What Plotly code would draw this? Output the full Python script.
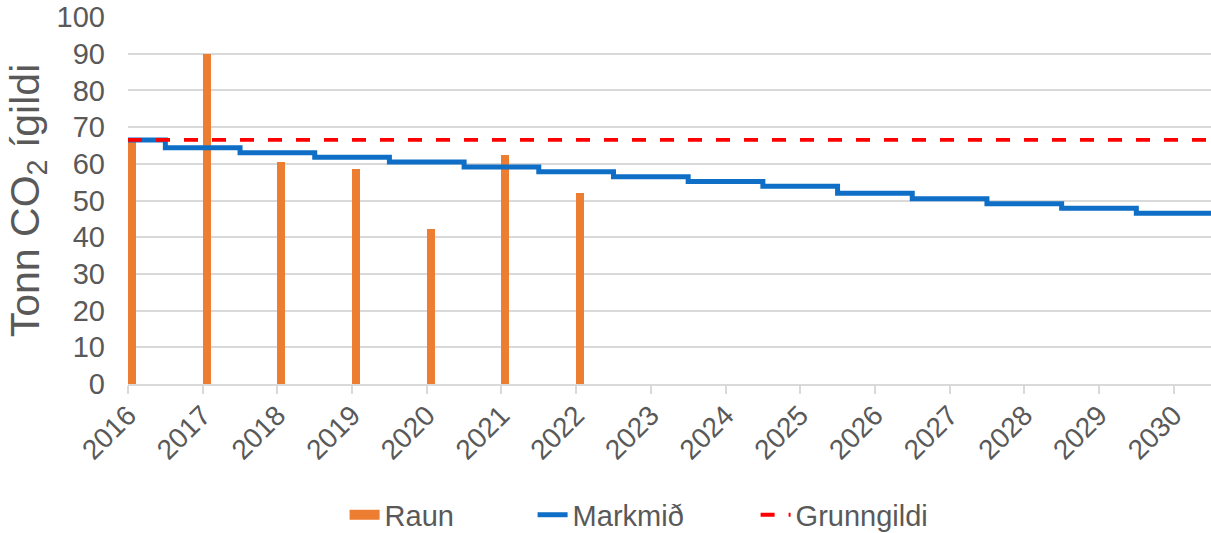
import plotly.graph_objects as go

years = [2016, 2017, 2018, 2019, 2020, 2021, 2022, 2023, 2024, 2025, 2026, 2027, 2028, 2029, 2030]
raun_years = [2016, 2017, 2018, 2019, 2020, 2021, 2022]
raun = [66.3, 89.8, 60.6, 58.5, 42.3, 62.4, 52.0]
markmid = [66.5, 64.4, 63.0, 61.8, 60.5, 59.1, 57.8, 56.5, 55.2, 53.9, 52.0, 50.5, 49.1, 47.9, 46.5]
grunngildi = [66.5] * len(years)
x_end = 2030.5

gray = "#595959"
font_family = "Liberation Sans, Arial, sans-serif"

fig = go.Figure()
fig.add_trace(go.Bar(
    x=raun_years, y=raun, name="Raun", showlegend=False,
    marker=dict(color="#ED7D31", line=dict(width=0)),
    width=0.105, offset=0,
))
# legend entry for bars (wide rectangle swatch like the reference)
fig.add_trace(go.Scatter(
    x=[None], y=[None], name="Raun", mode="lines",
    line=dict(color="#ED7D31", width=15), legendwidth=143,
))
fig.add_trace(go.Scatter(
    x=years + [x_end], y=markmid + [markmid[-1]], name="Markmið",
    mode="lines", line=dict(color="#0F6FC6", width=5, shape="hvh"), legendwidth=178,
))
fig.add_trace(go.Scatter(
    x=years + [x_end], y=grunngildi + [grunngildi[-1]], name="Grunngildi",
    mode="lines", line=dict(color="#FF0000", width=3.8, dash="14px,14px"), legendwidth=180,
))

fig.update_layout(
    width=1211, height=533,
    margin=dict(l=128, r=0, t=17, b=149),
    paper_bgcolor="white", plot_bgcolor="white",
    font=dict(family=font_family, color=gray, size=28),
    showlegend=True,
    legend=dict(orientation="h", x=0.2, xanchor="left", yref="container", y=0.034, yanchor="middle",
                font=dict(size=29, color=gray), traceorder="normal"),
    bargap=0,
)
fig.update_xaxes(
    range=[2016, x_end], tickmode="array", tickvals=years, ticktext=[str(y) for y in years],
    tickangle=-45, showgrid=False, showline=True, linecolor="#D9D9D9", linewidth=1.5,
    ticks="outside", ticklen=8, tickcolor="#D9D9D9", tickwidth=1.5,
    tickfont=dict(size=28, color=gray), zeroline=False, automargin=False,
    ticklabelstandoff=-6,
)
fig.update_yaxes(
    range=[0, 100], dtick=10, showgrid=True, gridcolor="#D9D9D9", gridwidth=1.5,
    zeroline=False, showline=False, ticks="", automargin=False,
    tickfont=dict(size=29, color=gray), ticklabelstandoff=22, ticklabeloverflow="allow",
    title=dict(text="Tonn CO<sub>2</sub> ígildi", font=dict(size=41, color=gray), standoff=4),
)

fig.write_html(
    "out.html",
    config={"displayModeBar": False},
    post_script="document.body.style.margin='0px';document.body.style.overflow='hidden';",
)
